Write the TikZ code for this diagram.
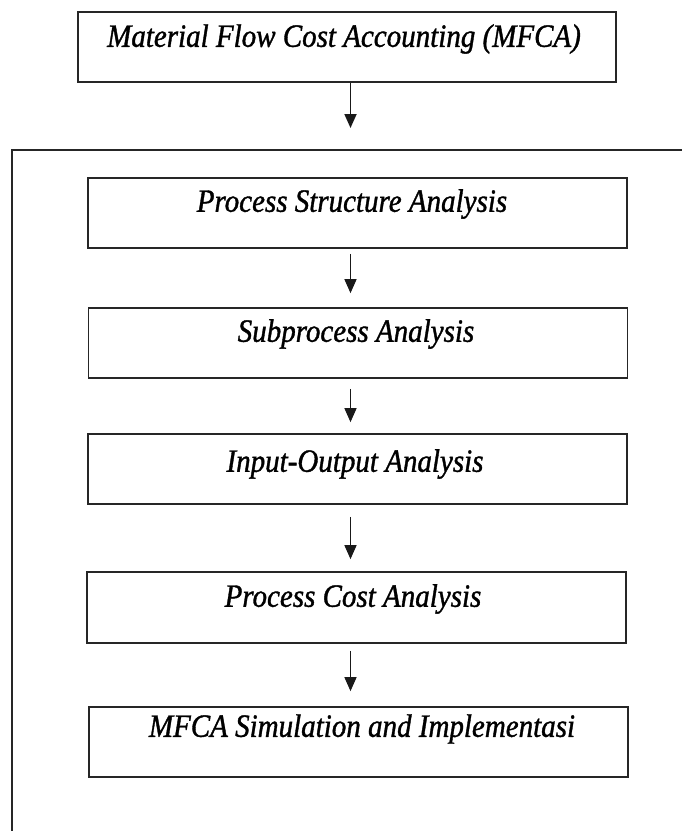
\documentclass[tikz,border=0pt]{standalone}
\usepackage{fontspec}
\setmainfont{Liberation Serif}
\newfontface\boxfont{Liberation Serif Italic}[FakeBold=1.2]
\usetikzlibrary{arrows.meta}
\newcommand{\tallbox}[1]{\scalebox{1}[1.12]{#1}}
\begin{document}
\begin{tikzpicture}[x=1pt,y=1pt,
  stepbox/.style={draw=black!85, line width=1.7pt, minimum width=539pt, minimum height=70pt, inner sep=0pt},
  steptext/.style={font=\fontsize{29}{34}\selectfont\boxfont, inner sep=0pt, anchor=center},
  flow/.style={draw=black!90, line width=1.4pt, -{Triangle[width=12pt,length=14pt]}}]
\useasboundingbox (0,0) rectangle (682,-831);
\fill[white] (0,0) rectangle (682,-831);
% outer frame (cropped on the right and bottom)
\draw[line width=1.8pt, black!85] (682,-150) -- (12,-150) -- (12,-831);
\coordinate (ax) at (350.5,0);
\coordinate (outertop) at (350.5,-150);
% boxes
\node[stepbox, minimum width=538pt] (b0) at (347,-47) {};
\node[stepbox] (b1) at (357.5,-213) {};
\node[stepbox] (b2) at (358,-343) {};
\node[stepbox] (b3) at (357.5,-469) {};
\node[stepbox, minimum height=71pt] (b4) at (356.5,-607.5) {};
\node[stepbox] (b5) at (358.5,-742) {};
% texts
\node[steptext] (t0) at (344,-39) {\tallbox{Material Flow Cost Accounting (MFCA)}};
\node[steptext] (t1) at (352,-204) {\tallbox{Process Structure Analysis}};
\node[steptext] (t2) at (356,-334) {\tallbox{Subprocess Analysis}};
\node[steptext] (t3) at (355,-464) {\tallbox{Input-Output Analysis}};
\node[steptext] (t4) at (353,-599) {\tallbox{Process Cost Analysis}};
\node[steptext] (t5) at (362,-729) {\tallbox{MFCA Simulation and Implementasi}};
% connectors
\draw[flow, line width=1.8pt, shorten >=22pt] (b0.south -| ax) -- (outertop);
\draw[flow, shorten <=5pt, shorten >=14pt] (b1.south -| ax) -- (b2.north -| ax);
\draw[flow, shorten <=10pt, shorten >=11pt] (b2.south -| ax) -- (b3.north -| ax);
\draw[flow, shorten <=12pt, shorten >=12pt] (b3.south -| ax) -- (b4.north -| ax);
\draw[flow, shorten <=7pt, shorten >=15pt] (b4.south -| ax) -- (b5.north -| ax);
\end{tikzpicture}
\end{document}
